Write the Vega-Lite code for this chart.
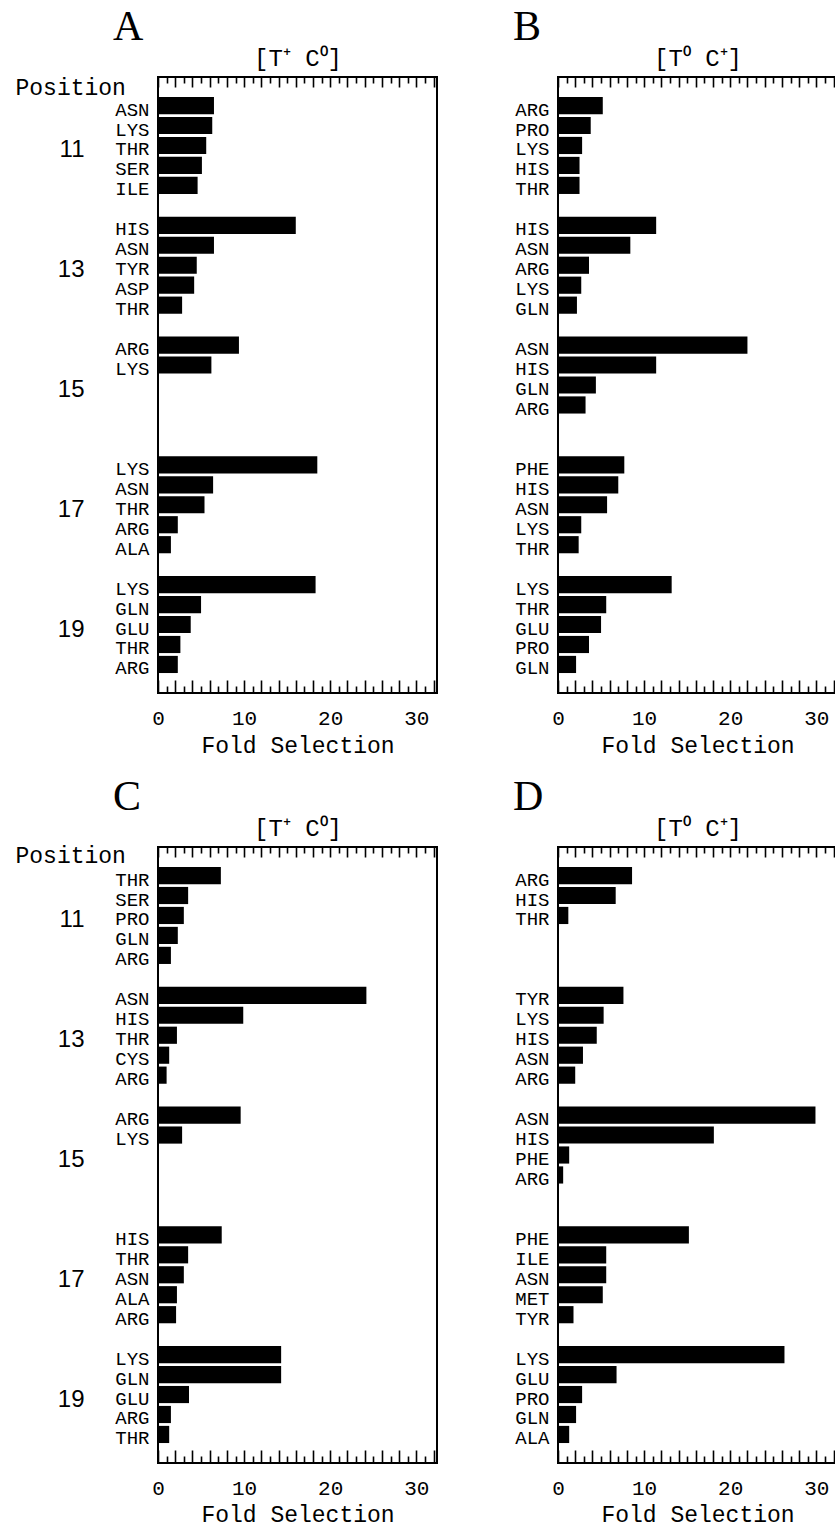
{
"$schema":"https://vega.github.io/schema/vega-lite/v6.json",
"background":"white",
"padding":{"left":14,"top":5,"right":0,"bottom":0},
"data":{"values":[
{"panel":"A","key":"11 ASN","fold":6.5},{"panel":"A","key":"11 LYS","fold":6.3},{"panel":"A","key":"11 THR","fold":5.6},{"panel":"A","key":"11 SER","fold":5.1},{"panel":"A","key":"11 ILE","fold":4.6},
{"panel":"A","key":"13 HIS","fold":16.0},{"panel":"A","key":"13 ASN","fold":6.5},{"panel":"A","key":"13 TYR","fold":4.5},{"panel":"A","key":"13 ASP","fold":4.2},{"panel":"A","key":"13 THR","fold":2.8},
{"panel":"A","key":"15 ARG","fold":9.4},{"panel":"A","key":"15 LYS","fold":6.2},
{"panel":"A","key":"17 LYS","fold":18.5},{"panel":"A","key":"17 ASN","fold":6.4},{"panel":"A","key":"17 THR","fold":5.4},{"panel":"A","key":"17 ARG","fold":2.3},{"panel":"A","key":"17 ALA","fold":1.5},
{"panel":"A","key":"19 LYS","fold":18.3},{"panel":"A","key":"19 GLN","fold":5.0},{"panel":"A","key":"19 GLU","fold":3.8},{"panel":"A","key":"19 THR","fold":2.6},{"panel":"A","key":"19 ARG","fold":2.3},
{"panel":"B","key":"11 ARG","fold":5.2},{"panel":"B","key":"11 PRO","fold":3.8},{"panel":"B","key":"11 LYS","fold":2.8},{"panel":"B","key":"11 HIS","fold":2.5},{"panel":"B","key":"11 THR","fold":2.5},
{"panel":"B","key":"13 HIS","fold":11.4},{"panel":"B","key":"13 ASN","fold":8.4},{"panel":"B","key":"13 ARG","fold":3.6},{"panel":"B","key":"13 LYS","fold":2.7},{"panel":"B","key":"13 GLN","fold":2.2},
{"panel":"B","key":"15 ASN","fold":22.0},{"panel":"B","key":"15 HIS","fold":11.4},{"panel":"B","key":"15 GLN","fold":4.4},{"panel":"B","key":"15 ARG","fold":3.2},
{"panel":"B","key":"17 PHE","fold":7.7},{"panel":"B","key":"17 HIS","fold":7.0},{"panel":"B","key":"17 ASN","fold":5.7},{"panel":"B","key":"17 LYS","fold":2.7},{"panel":"B","key":"17 THR","fold":2.4},
{"panel":"B","key":"19 LYS","fold":13.2},{"panel":"B","key":"19 THR","fold":5.6},{"panel":"B","key":"19 GLU","fold":5.0},{"panel":"B","key":"19 PRO","fold":3.6},{"panel":"B","key":"19 GLN","fold":2.1},
{"panel":"C","key":"11 THR","fold":7.3},{"panel":"C","key":"11 SER","fold":3.5},{"panel":"C","key":"11 PRO","fold":3.0},{"panel":"C","key":"11 GLN","fold":2.3},{"panel":"C","key":"11 ARG","fold":1.5},
{"panel":"C","key":"13 ASN","fold":24.2},{"panel":"C","key":"13 HIS","fold":9.9},{"panel":"C","key":"13 THR","fold":2.2},{"panel":"C","key":"13 CYS","fold":1.3},{"panel":"C","key":"13 ARG","fold":1.0},
{"panel":"C","key":"15 ARG","fold":9.6},{"panel":"C","key":"15 LYS","fold":2.8},
{"panel":"C","key":"17 HIS","fold":7.4},{"panel":"C","key":"17 THR","fold":3.5},{"panel":"C","key":"17 ASN","fold":3.0},{"panel":"C","key":"17 ALA","fold":2.2},{"panel":"C","key":"17 ARG","fold":2.1},
{"panel":"C","key":"19 LYS","fold":14.3},{"panel":"C","key":"19 GLN","fold":14.3},{"panel":"C","key":"19 GLU","fold":3.6},{"panel":"C","key":"19 ARG","fold":1.5},{"panel":"C","key":"19 THR","fold":1.3},
{"panel":"D","key":"11 ARG","fold":8.6},{"panel":"D","key":"11 HIS","fold":6.7},{"panel":"D","key":"11 THR","fold":1.2},
{"panel":"D","key":"13 TYR","fold":7.6},{"panel":"D","key":"13 LYS","fold":5.3},{"panel":"D","key":"13 HIS","fold":4.5},{"panel":"D","key":"13 ASN","fold":2.9},{"panel":"D","key":"13 ARG","fold":2.0},
{"panel":"D","key":"15 ASN","fold":29.9},{"panel":"D","key":"15 HIS","fold":18.1},{"panel":"D","key":"15 PHE","fold":1.3},{"panel":"D","key":"15 ARG","fold":0.6},
{"panel":"D","key":"17 PHE","fold":15.2},{"panel":"D","key":"17 ILE","fold":5.6},{"panel":"D","key":"17 ASN","fold":5.6},{"panel":"D","key":"17 MET","fold":5.2},{"panel":"D","key":"17 TYR","fold":1.8},
{"panel":"D","key":"19 LYS","fold":26.3},{"panel":"D","key":"19 GLU","fold":6.8},{"panel":"D","key":"19 PRO","fold":2.8},{"panel":"D","key":"19 GLN","fold":2.1},{"panel":"D","key":"19 ALA","fold":1.3}
]},
"columns":2,
"spacing":{"row":154,"column":121},
"bounds":"flush",
"concat":[
{
"title":{"text":"A","anchor":"start","frame":"group","dx":-45,"offset":-36,"font":"Liberation Serif","fontSize":42,"fontWeight":"normal","baseline":"alphabetic"},
"width":279,"height":616,
"transform":[{"filter":"datum.panel === 'A'"}],
"layer":[
{"mark":{"type":"bar","color":"black"},"encoding":{
"x":{"field":"fold","type":"quantitative","scale":{"domain":[0,32.4],"nice":false},"axis":{"orient":"bottom","values":[0,2,4,6,8,10,12,14,16,18,20,22,24,26,28,30,32],"tickSize":-13,"labelExpr":"datum.value % 10 === 0 ? datum.label : ''","labelFontSize":21,"labelPadding":27,"labelFlush":false,"labelOverlap":false,"title":"Fold Selection","titleFontSize":23,"titlePadding":6}},
"y":{"field":"key","type":"nominal","scale":{"domain":["11 ASN","11 LYS","11 THR","11 SER","11 ILE","11 ~","13 HIS","13 ASN","13 TYR","13 ASP","13 THR","13 ~","15 ARG","15 LYS","15 ~3","15 ~4","15 ~5","15 ~","17 LYS","17 ASN","17 THR","17 ARG","17 ALA","17 ~","19 LYS","19 GLN","19 GLU","19 THR","19 ARG"],"paddingInner":0.14,"paddingOuter":1.14},"axis":{"orient":"left","ticks":false,"labelExpr":"indexof(datum.value,'~') >= 0 ? '' : split(datum.value,' ')[1]","labelPadding":9,"labelFontSize":19,"labelOffset":4,"title":null}}}},
{"mark":{"type":"bar","opacity":0},"encoding":{
"x":{"field":"fold","type":"quantitative","scale":{"domain":[0,32.4],"nice":false},"axis":{"orient":"bottom","values":[1,3,5,7,9,11,13,15,17,19,21,23,25,27,29,31],"tickSize":-7,"labels":false,"title":null}},
"y":{"field":"key","type":"nominal","scale":{"domain":["11 ASN","11 LYS","11 THR","11 SER","11 ILE","11 ~","13 HIS","13 ASN","13 TYR","13 ASP","13 THR","13 ~","15 ARG","15 LYS","15 ~3","15 ~4","15 ~5","15 ~","17 LYS","17 ASN","17 THR","17 ARG","17 ALA","17 ~","19 LYS","19 GLN","19 GLU","19 THR","19 ARG"],"paddingInner":0.14,"paddingOuter":1.14},"axis":{"orient":"left","ticks":false,"labelExpr":"indexof(['11 THR','13 TYR','15 ~3','17 THR','19 GLU'], datum.value) >= 0 ? split(datum.value,' ')[0] : ''","labelFont":"Liberation Sans","labelFontSize":24,"labelPadding":74,"labelOffset":5,"title":"Position","titleFontSize":23,"titleAngle":0,"titleAlign":"left","titleBaseline":"middle","titleX":-143,"titleY":10}}}},
{"mark":{"type":"bar","opacity":0},"encoding":{
"x":{"field":"fold","type":"quantitative","scale":{"domain":[0,32.4],"nice":false},"axis":{"orient":"top","values":[0,2,4,6,8,10,12,14,16,18,20,22,24,26,28,30,32],"tickSize":-10,"labels":false,"title":"[T⁺ C⁰]","titleFontSize":24,"titlePadding":6}},
"y":{"field":"key","type":"nominal","scale":{"domain":["11 ASN","11 LYS","11 THR","11 SER","11 ILE","11 ~","13 HIS","13 ASN","13 TYR","13 ASP","13 THR","13 ~","15 ARG","15 LYS","15 ~3","15 ~4","15 ~5","15 ~","17 LYS","17 ASN","17 THR","17 ARG","17 ALA","17 ~","19 LYS","19 GLN","19 GLU","19 THR","19 ARG"],"paddingInner":0.14,"paddingOuter":1.14},"axis":null}}},
{"mark":{"type":"bar","opacity":0},"encoding":{
"x":{"field":"fold","type":"quantitative","scale":{"domain":[0,32.4],"nice":false},"axis":{"orient":"top","values":[1,3,5,7,9,11,13,15,17,19,21,23,25,27,29,31],"tickSize":-6,"labels":false,"title":null}},
"y":{"field":"key","type":"nominal","scale":{"domain":["11 ASN","11 LYS","11 THR","11 SER","11 ILE","11 ~","13 HIS","13 ASN","13 TYR","13 ASP","13 THR","13 ~","15 ARG","15 LYS","15 ~3","15 ~4","15 ~5","15 ~","17 LYS","17 ASN","17 THR","17 ARG","17 ALA","17 ~","19 LYS","19 GLN","19 GLU","19 THR","19 ARG"],"paddingInner":0.14,"paddingOuter":1.14},"axis":null}}}
],
"resolve":{"axis":{"x":"independent","y":"independent"}}
},
{
"title":{"text":"B","anchor":"start","frame":"group","dx":-45,"offset":-36,"font":"Liberation Serif","fontSize":42,"fontWeight":"normal","baseline":"alphabetic"},
"width":279,"height":616,
"transform":[{"filter":"datum.panel === 'B'"}],
"layer":[
{"mark":{"type":"bar","color":"black"},"encoding":{
"x":{"field":"fold","type":"quantitative","scale":{"domain":[0,32.4],"nice":false},"axis":{"orient":"bottom","values":[0,2,4,6,8,10,12,14,16,18,20,22,24,26,28,30,32],"tickSize":-13,"labelExpr":"datum.value % 10 === 0 ? datum.label : ''","labelFontSize":21,"labelPadding":27,"labelFlush":false,"labelOverlap":false,"title":"Fold Selection","titleFontSize":23,"titlePadding":6}},
"y":{"field":"key","type":"nominal","scale":{"domain":["11 ARG","11 PRO","11 LYS","11 HIS","11 THR","11 ~","13 HIS","13 ASN","13 ARG","13 LYS","13 GLN","13 ~","15 ASN","15 HIS","15 GLN","15 ARG","15 ~5","15 ~","17 PHE","17 HIS","17 ASN","17 LYS","17 THR","17 ~","19 LYS","19 THR","19 GLU","19 PRO","19 GLN"],"paddingInner":0.14,"paddingOuter":1.14},"axis":{"orient":"left","ticks":false,"labelExpr":"indexof(datum.value,'~') >= 0 ? '' : split(datum.value,' ')[1]","labelPadding":9,"labelFontSize":19,"labelOffset":4,"title":null}}}},
{"mark":{"type":"bar","opacity":0},"encoding":{
"x":{"field":"fold","type":"quantitative","scale":{"domain":[0,32.4],"nice":false},"axis":{"orient":"bottom","values":[1,3,5,7,9,11,13,15,17,19,21,23,25,27,29,31],"tickSize":-7,"labels":false,"title":null}},
"y":{"field":"key","type":"nominal","scale":{"domain":["11 ARG","11 PRO","11 LYS","11 HIS","11 THR","11 ~","13 HIS","13 ASN","13 ARG","13 LYS","13 GLN","13 ~","15 ASN","15 HIS","15 GLN","15 ARG","15 ~5","15 ~","17 PHE","17 HIS","17 ASN","17 LYS","17 THR","17 ~","19 LYS","19 THR","19 GLU","19 PRO","19 GLN"],"paddingInner":0.14,"paddingOuter":1.14},"axis":null}}},
{"mark":{"type":"bar","opacity":0},"encoding":{
"x":{"field":"fold","type":"quantitative","scale":{"domain":[0,32.4],"nice":false},"axis":{"orient":"top","values":[0,2,4,6,8,10,12,14,16,18,20,22,24,26,28,30,32],"tickSize":-10,"labels":false,"title":"[T⁰ C⁺]","titleFontSize":24,"titlePadding":6}},
"y":{"field":"key","type":"nominal","scale":{"domain":["11 ARG","11 PRO","11 LYS","11 HIS","11 THR","11 ~","13 HIS","13 ASN","13 ARG","13 LYS","13 GLN","13 ~","15 ASN","15 HIS","15 GLN","15 ARG","15 ~5","15 ~","17 PHE","17 HIS","17 ASN","17 LYS","17 THR","17 ~","19 LYS","19 THR","19 GLU","19 PRO","19 GLN"],"paddingInner":0.14,"paddingOuter":1.14},"axis":null}}},
{"mark":{"type":"bar","opacity":0},"encoding":{
"x":{"field":"fold","type":"quantitative","scale":{"domain":[0,32.4],"nice":false},"axis":{"orient":"top","values":[1,3,5,7,9,11,13,15,17,19,21,23,25,27,29,31],"tickSize":-6,"labels":false,"title":null}},
"y":{"field":"key","type":"nominal","scale":{"domain":["11 ARG","11 PRO","11 LYS","11 HIS","11 THR","11 ~","13 HIS","13 ASN","13 ARG","13 LYS","13 GLN","13 ~","15 ASN","15 HIS","15 GLN","15 ARG","15 ~5","15 ~","17 PHE","17 HIS","17 ASN","17 LYS","17 THR","17 ~","19 LYS","19 THR","19 GLU","19 PRO","19 GLN"],"paddingInner":0.14,"paddingOuter":1.14},"axis":null}}}
],
"resolve":{"axis":{"x":"independent","y":"independent"}}
},
{
"title":{"text":"C","anchor":"start","frame":"group","dx":-45,"offset":-36,"font":"Liberation Serif","fontSize":42,"fontWeight":"normal","baseline":"alphabetic"},
"width":279,"height":616,
"transform":[{"filter":"datum.panel === 'C'"}],
"layer":[
{"mark":{"type":"bar","color":"black"},"encoding":{
"x":{"field":"fold","type":"quantitative","scale":{"domain":[0,32.4],"nice":false},"axis":{"orient":"bottom","values":[0,2,4,6,8,10,12,14,16,18,20,22,24,26,28,30,32],"tickSize":-13,"labelExpr":"datum.value % 10 === 0 ? datum.label : ''","labelFontSize":21,"labelPadding":27,"labelFlush":false,"labelOverlap":false,"title":"Fold Selection","titleFontSize":23,"titlePadding":5}},
"y":{"field":"key","type":"nominal","scale":{"domain":["11 THR","11 SER","11 PRO","11 GLN","11 ARG","11 ~","13 ASN","13 HIS","13 THR","13 CYS","13 ARG","13 ~","15 ARG","15 LYS","15 ~3","15 ~4","15 ~5","15 ~","17 HIS","17 THR","17 ASN","17 ALA","17 ARG","17 ~","19 LYS","19 GLN","19 GLU","19 ARG","19 THR"],"paddingInner":0.14,"paddingOuter":1.14},"axis":{"orient":"left","ticks":false,"labelExpr":"indexof(datum.value,'~') >= 0 ? '' : split(datum.value,' ')[1]","labelPadding":9,"labelFontSize":19,"labelOffset":4,"title":null}}}},
{"mark":{"type":"bar","opacity":0},"encoding":{
"x":{"field":"fold","type":"quantitative","scale":{"domain":[0,32.4],"nice":false},"axis":{"orient":"bottom","values":[1,3,5,7,9,11,13,15,17,19,21,23,25,27,29,31],"tickSize":-7,"labels":false,"title":null}},
"y":{"field":"key","type":"nominal","scale":{"domain":["11 THR","11 SER","11 PRO","11 GLN","11 ARG","11 ~","13 ASN","13 HIS","13 THR","13 CYS","13 ARG","13 ~","15 ARG","15 LYS","15 ~3","15 ~4","15 ~5","15 ~","17 HIS","17 THR","17 ASN","17 ALA","17 ARG","17 ~","19 LYS","19 GLN","19 GLU","19 ARG","19 THR"],"paddingInner":0.14,"paddingOuter":1.14},"axis":{"orient":"left","ticks":false,"labelExpr":"indexof(['11 PRO','13 THR','15 ~3','17 ASN','19 GLU'], datum.value) >= 0 ? split(datum.value,' ')[0] : ''","labelFont":"Liberation Sans","labelFontSize":24,"labelPadding":74,"labelOffset":5,"title":"Position","titleFontSize":23,"titleAngle":0,"titleAlign":"left","titleBaseline":"middle","titleX":-143,"titleY":8}}}},
{"mark":{"type":"bar","opacity":0},"encoding":{
"x":{"field":"fold","type":"quantitative","scale":{"domain":[0,32.4],"nice":false},"axis":{"orient":"top","values":[0,2,4,6,8,10,12,14,16,18,20,22,24,26,28,30,32],"tickSize":-10,"labels":false,"title":"[T⁺ C⁰]","titleFontSize":24,"titlePadding":6}},
"y":{"field":"key","type":"nominal","scale":{"domain":["11 THR","11 SER","11 PRO","11 GLN","11 ARG","11 ~","13 ASN","13 HIS","13 THR","13 CYS","13 ARG","13 ~","15 ARG","15 LYS","15 ~3","15 ~4","15 ~5","15 ~","17 HIS","17 THR","17 ASN","17 ALA","17 ARG","17 ~","19 LYS","19 GLN","19 GLU","19 ARG","19 THR"],"paddingInner":0.14,"paddingOuter":1.14},"axis":null}}},
{"mark":{"type":"bar","opacity":0},"encoding":{
"x":{"field":"fold","type":"quantitative","scale":{"domain":[0,32.4],"nice":false},"axis":{"orient":"top","values":[1,3,5,7,9,11,13,15,17,19,21,23,25,27,29,31],"tickSize":-6,"labels":false,"title":null}},
"y":{"field":"key","type":"nominal","scale":{"domain":["11 THR","11 SER","11 PRO","11 GLN","11 ARG","11 ~","13 ASN","13 HIS","13 THR","13 CYS","13 ARG","13 ~","15 ARG","15 LYS","15 ~3","15 ~4","15 ~5","15 ~","17 HIS","17 THR","17 ASN","17 ALA","17 ARG","17 ~","19 LYS","19 GLN","19 GLU","19 ARG","19 THR"],"paddingInner":0.14,"paddingOuter":1.14},"axis":null}}}
],
"resolve":{"axis":{"x":"independent","y":"independent"}}
},
{
"title":{"text":"D","anchor":"start","frame":"group","dx":-45,"offset":-36,"font":"Liberation Serif","fontSize":42,"fontWeight":"normal","baseline":"alphabetic"},
"width":279,"height":616,
"transform":[{"filter":"datum.panel === 'D'"}],
"layer":[
{"mark":{"type":"bar","color":"black"},"encoding":{
"x":{"field":"fold","type":"quantitative","scale":{"domain":[0,32.4],"nice":false},"axis":{"orient":"bottom","values":[0,2,4,6,8,10,12,14,16,18,20,22,24,26,28,30,32],"tickSize":-13,"labelExpr":"datum.value % 10 === 0 ? datum.label : ''","labelFontSize":21,"labelPadding":27,"labelFlush":false,"labelOverlap":false,"title":"Fold Selection","titleFontSize":23,"titlePadding":5}},
"y":{"field":"key","type":"nominal","scale":{"domain":["11 ARG","11 HIS","11 THR","11 ~4","11 ~5","11 ~","13 TYR","13 LYS","13 HIS","13 ASN","13 ARG","13 ~","15 ASN","15 HIS","15 PHE","15 ARG","15 ~5","15 ~","17 PHE","17 ILE","17 ASN","17 MET","17 TYR","17 ~","19 LYS","19 GLU","19 PRO","19 GLN","19 ALA"],"paddingInner":0.14,"paddingOuter":1.14},"axis":{"orient":"left","ticks":false,"labelExpr":"indexof(datum.value,'~') >= 0 ? '' : split(datum.value,' ')[1]","labelPadding":9,"labelFontSize":19,"labelOffset":4,"title":null}}}},
{"mark":{"type":"bar","opacity":0},"encoding":{
"x":{"field":"fold","type":"quantitative","scale":{"domain":[0,32.4],"nice":false},"axis":{"orient":"bottom","values":[1,3,5,7,9,11,13,15,17,19,21,23,25,27,29,31],"tickSize":-7,"labels":false,"title":null}},
"y":{"field":"key","type":"nominal","scale":{"domain":["11 ARG","11 HIS","11 THR","11 ~4","11 ~5","11 ~","13 TYR","13 LYS","13 HIS","13 ASN","13 ARG","13 ~","15 ASN","15 HIS","15 PHE","15 ARG","15 ~5","15 ~","17 PHE","17 ILE","17 ASN","17 MET","17 TYR","17 ~","19 LYS","19 GLU","19 PRO","19 GLN","19 ALA"],"paddingInner":0.14,"paddingOuter":1.14},"axis":null}}},
{"mark":{"type":"bar","opacity":0},"encoding":{
"x":{"field":"fold","type":"quantitative","scale":{"domain":[0,32.4],"nice":false},"axis":{"orient":"top","values":[0,2,4,6,8,10,12,14,16,18,20,22,24,26,28,30,32],"tickSize":-10,"labels":false,"title":"[T⁰ C⁺]","titleFontSize":24,"titlePadding":6}},
"y":{"field":"key","type":"nominal","scale":{"domain":["11 ARG","11 HIS","11 THR","11 ~4","11 ~5","11 ~","13 TYR","13 LYS","13 HIS","13 ASN","13 ARG","13 ~","15 ASN","15 HIS","15 PHE","15 ARG","15 ~5","15 ~","17 PHE","17 ILE","17 ASN","17 MET","17 TYR","17 ~","19 LYS","19 GLU","19 PRO","19 GLN","19 ALA"],"paddingInner":0.14,"paddingOuter":1.14},"axis":null}}},
{"mark":{"type":"bar","opacity":0},"encoding":{
"x":{"field":"fold","type":"quantitative","scale":{"domain":[0,32.4],"nice":false},"axis":{"orient":"top","values":[1,3,5,7,9,11,13,15,17,19,21,23,25,27,29,31],"tickSize":-6,"labels":false,"title":null}},
"y":{"field":"key","type":"nominal","scale":{"domain":["11 ARG","11 HIS","11 THR","11 ~4","11 ~5","11 ~","13 TYR","13 LYS","13 HIS","13 ASN","13 ARG","13 ~","15 ASN","15 HIS","15 PHE","15 ARG","15 ~5","15 ~","17 PHE","17 ILE","17 ASN","17 MET","17 TYR","17 ~","19 LYS","19 GLU","19 PRO","19 GLN","19 ALA"],"paddingInner":0.14,"paddingOuter":1.14},"axis":null}}}
],
"resolve":{"axis":{"x":"independent","y":"independent"}}
}
],
"config":{
"view":{"stroke":"black","strokeWidth":2},
"axis":{"grid":false,"domain":false,"tickColor":"black","tickWidth":1.6,"labelColor":"black","titleColor":"black","labelFont":"Liberation Mono","titleFont":"Liberation Mono","titleFontWeight":"normal"},
"title":{"color":"black"}
}
}
